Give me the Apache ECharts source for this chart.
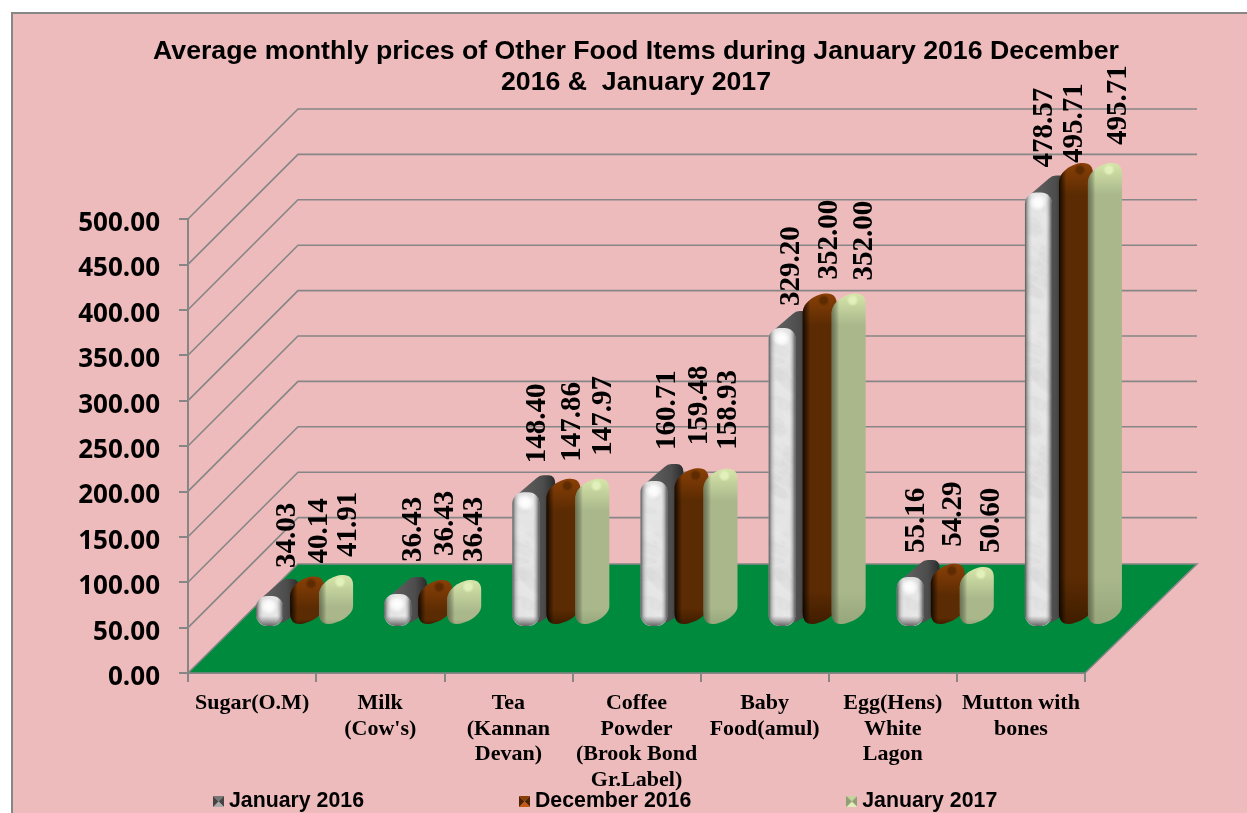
<!DOCTYPE html>
<html>
<head>
<meta charset="utf-8">
<title>Average monthly prices</title>
<script src="https://cdn.jsdelivr.net/npm/echarts@6/dist/echarts.min.js"></script>
<style>
html, body { margin: 0; padding: 0; background: #fff; overflow: hidden; }
#main { width: 1247px; height: 813px; }
</style>
</head>
<body>
<div id="main"></div>
<script>
var categories = ['Sugar(O.M)', "Milk\n(Cow's)", 'Tea\n(Kannan\nDevan)', 'Coffee\nPowder\n(Brook Bond\nGr.Label)', 'Baby\nFood(amul)', 'Egg(Hens)\nWhite\nLagon', 'Mutton with\nbones'];
var jan2016 = [34.03, 36.43, 148.40, 160.71, 329.20, 55.16, 478.57];
var dec2016 = [40.14, 36.43, 147.86, 159.48, 352.00, 54.29, 495.71];
var jan2017 = [41.91, 36.43, 147.97, 158.93, 352.00, 50.60, 495.71];
var gridValues = [50, 100, 150, 200, 250, 300, 350, 400, 450, 500];

// hand placed labels in the original, [dx from category centre, dy from value]
var labelDx = [
    [35, 33, 29, 31, 27, 24, 24],
    [67, 65, 64, 63, 65, 61, 54],
    [96, 94, 95, 92, 100, 99, 98]
];
var labelDy = [
    [-74, -78, -75, -77, -68, -70, -71],
    [-73, -84, -77, -83, -74, -77, -60],
    [-78, -78, -83, -79, -73, -74, -78]
];

var DEPTH = 110;
var WALL_COLOR = '#868686';
var LABEL_FONT = 'bold 29px "Liberation Serif"';

function makeMarble() {
    var c = document.createElement('canvas');
    c.width = 64; c.height = 200;
    var ctx = c.getContext('2d');
    ctx.fillStyle = '#e4e4e4';
    ctx.fillRect(0, 0, 64, 200);
    for (var i = 1; i < 130; i++) {
        var a = Math.sin(i * 12.9898) * 43758.5453; a = a - Math.floor(a);
        var b = Math.sin(i * 78.233) * 24634.6345; b = b - Math.floor(b);
        var g = i % 2 === 0 ? 250 : 190 + Math.floor(a * 30);
        ctx.fillStyle = 'rgba(' + g + ',' + g + ',' + g + ',0.1)';
        ctx.beginPath();
        ctx.ellipse(a * 64, b * 200, 7 + b * 10, 4 + a * 8, a * 3, 0, Math.PI * 2);
        ctx.fill();
    }
    return c;
}
var marble = makeMarble();

function makeLegendIcon(light, mid, dark) {
    var c = document.createElement('canvas');
    c.width = 11; c.height = 11;
    var ctx = c.getContext('2d');
    var faces = [[0, 0, 11, 0, mid], [11, 0, 11, 11, dark], [11, 11, 0, 11, light], [0, 11, 0, 0, dark]];
    faces.forEach(function(f) {
        ctx.fillStyle = f[4];
        ctx.beginPath();
        ctx.moveTo(f[0], f[1]);
        ctx.lineTo(f[2], f[3]);
        ctx.lineTo(5.5, 5.5);
        ctx.closePath();
        ctx.fill();
    });
    return 'image://' + c.toDataURL();
}

function valueLabel(api, s, i, v) {
    var base = api.coord([i, 0]);
    var top = api.coord([i, v]);
    return {
        type: 'text',
        x: base[0] + labelDx[s][i],
        y: top[1] + labelDy[s][i],
        rotation: Math.PI / 2,
        z2: 100,
        style: { text: v.toFixed(2), font: LABEL_FONT, fill: '#000', align: 'left', verticalAlign: 'middle' }
    };
}

function renderWhiteBar(params, api) {
    var i = api.value(0), v = api.value(1);
    var x = api.coord([i, 0])[0] + 4;
    var yB = api.coord([i, 0])[1] - 47;
    var yT = api.coord([i, v])[1] - 46;
    var h = yB - yT;
    var w = 27;
    var backPath = 'M' + (x + 3) + ' ' + (yT + 4) + 'L' + (x + 24) + ' ' + (yT - 14) +
        'Q' + (x + 27) + ' ' + (yT - 17) + ' ' + (x + 31) + ' ' + (yT - 17) +
        'L' + (x + 36) + ' ' + (yT - 17) + 'Q' + (x + 43) + ' ' + (yT - 17) + ' ' + (x + 43) + ' ' + (yT - 8) +
        'L' + (x + 43) + ' ' + (yB - 14) + 'L' + (x + 26) + ' ' + (yB - 3) + 'Z';
    return {
        type: 'group',
        children: [
            { type: 'path', shape: { pathData: backPath }, style: {
                fill: { type: 'linear', x: 0, y: 0, x2: 1, y2: 0, colorStops: [
                    { offset: 0, color: '#666' }, { offset: 0.7, color: '#4c4c4c' }, { offset: 1, color: '#2a2a2a' }] } } },
            { type: 'rect', shape: { x: x, y: yT, width: w, height: h, r: 11 }, style: { fill: { image: marble, repeat: 'repeat' } } },
            { type: 'rect', shape: { x: x, y: yT, width: w, height: h, r: 11 }, style: {
                fill: { type: 'linear', x: 0, y: 0, x2: 1, y2: 0, colorStops: [
                    { offset: 0, color: 'rgba(60,60,60,0.85)' }, { offset: 0.14, color: 'rgba(140,140,140,0.35)' },
                    { offset: 0.32, color: 'rgba(255,255,255,0)' }, { offset: 0.72, color: 'rgba(255,255,255,0)' },
                    { offset: 0.9, color: 'rgba(110,110,110,0.5)' }, { offset: 1, color: 'rgba(50,50,50,0.85)' }] } } },
            { type: 'rect', shape: { x: x + 1, y: yB - 10, width: w - 2, height: 10, r: [0, 0, 10, 10] }, style: {
                fill: { type: 'linear', x: 0, y: 0, x2: 0, y2: 1, colorStops: [
                    { offset: 0, color: 'rgba(90,90,90,0)' }, { offset: 1, color: 'rgba(70,70,70,0.8)' }] } } },
            { type: 'circle', shape: { cx: x + 13, cy: yT + 10, r: 9 }, style: {
                fill: { type: 'radial', x: 0.5, y: 0.5, r: 0.5, colorStops: [
                    { offset: 0, color: 'rgba(255,255,255,1)' }, { offset: 0.5, color: 'rgba(255,255,255,0.8)' }, { offset: 1, color: 'rgba(255,255,255,0)' }] } } },
            valueLabel(api, 0, i, v)
        ]
    };
}

function skewBar(x, yT, yB, w) {
    return 'M' + x + ' ' + (yT + 20) +
        'C' + x + ' ' + (yT + 8) + ' ' + (x + 14) + ' ' + yT + ' ' + (x + w - 10) + ' ' + yT +
        'C' + (x + w - 3) + ' ' + yT + ' ' + (x + w) + ' ' + (yT + 4) + ' ' + (x + w) + ' ' + (yT + 10) +
        'L' + (x + w) + ' ' + (yB - 18) +
        'C' + (x + w) + ' ' + (yB - 8) + ' ' + (x + 18) + ' ' + yB + ' ' + (x + 9) + ' ' + yB +
        'C' + (x + 3) + ' ' + yB + ' ' + x + ' ' + (yB - 4) + ' ' + x + ' ' + (yB - 12) + 'Z';
}

// brown and green bars only differ by colours and offset
function renderSkewBar(s, dx, cols) {
    return function(params, api) {
        var i = api.value(0), v = api.value(1);
        var x = api.coord([i, 0])[0] + dx;
        var yB = api.coord([i, 0])[1] - 49;
        var yT = api.coord([i, v])[1] - 60;
        var w = 34;
        var capStop = Math.min(0.8, 32 / (yB - yT));
        var bar = skewBar(x, yT, yB, w);
        return {
            type: 'group',
            children: [
                { type: 'path', shape: { pathData: bar }, style: {
                    fill: { type: 'linear', x: 0, y: 0, x2: 0, y2: 1, colorStops: [
                        { offset: 0, color: cols.cap }, { offset: capStop, color: cols.body },
                        { offset: 0.9, color: cols.body }, { offset: 1, color: cols.foot }] } } },
                { type: 'path', shape: { pathData: bar }, style: {
                    fill: { type: 'linear', x: 0, y: 0, x2: 1, y2: 0, colorStops: [
                        { offset: 0, color: cols.edge }, { offset: 0.22, color: 'rgba(0,0,0,0)' }, { offset: 1, color: 'rgba(0,0,0,0)' }] } } },
                { type: 'ellipse', shape: { cx: x + 21, cy: yT + 7, rx: 11, ry: 6 }, rotation: 0.3, originX: x + 21, originY: yT + 7, style: {
                    fill: { type: 'radial', x: 0.5, y: 0.5, r: 0.5, colorStops: [
                        { offset: 0, color: cols.spot }, { offset: 0.5, color: cols.spot }, { offset: 1, color: cols.spotOut }] } } },
                valueLabel(api, s, i, v)
            ]
        };
    };
}

function seriesData(values) {
    return values.map(function(v, i) { return [i, v]; });
}

var myChart = echarts.init(document.getElementById('main'));
var option = {
    animation: false,
    backgroundColor: '#fff',
    textStyle: { fontFamily: 'Liberation Sans' },
    title: {
        text: 'Average monthly prices of Other Food Items during January 2016 December\n2016 &  January 2017',
        left: 631,
        top: 31,
        textAlign: 'center',
        textStyle: { fontFamily: 'Liberation Sans', fontWeight: 'bold', fontSize: 26.7, lineHeight: 31, color: '#000' }
    },
    graphic: [{
        type: 'rect',
        z: -10,
        shape: { x: 12, y: 13, width: 1300, height: 900 },
        style: { fill: '#eebbbc', stroke: '#868686', lineWidth: 2 }
    }],
    legend: {
        left: 208,
        top: 786,
        itemWidth: 11,
        itemHeight: 11,
        itemGap: 155,
        textStyle: { fontFamily: 'Liberation Sans', fontWeight: 'bold', fontSize: 21.3, color: '#000' },
        data: [
            { name: 'January 2016', icon: makeLegendIcon('#aaa', '#777', '#444') },
            { name: 'December 2016', icon: makeLegendIcon('#c65a10', '#8a3e05', '#4f2200') },
            { name: 'January 2017', icon: makeLegendIcon('#e0f0b8', '#c3d49c', '#8f9f73') }
        ]
    },
    grid: { left: 188, top: 219, width: 897, height: 454 },
    xAxis: {
        type: 'category',
        data: categories,
        axisLine: { lineStyle: { color: WALL_COLOR, width: 2 } },
        axisTick: { show: true, length: 9, lineStyle: { color: WALL_COLOR, width: 2 } },
        axisLabel: {
            interval: 0,
            margin: 18,
            fontFamily: 'Liberation Serif',
            fontWeight: 'bold',
            fontSize: 22,
            lineHeight: 25.5,
            color: '#000'
        }
    },
    yAxis: {
        type: 'value',
        min: 0,
        max: 500,
        interval: 50,
        splitLine: { show: false },
        axisLine: { show: true, lineStyle: { color: WALL_COLOR, width: 2 } },
        axisTick: { show: true, length: 9, lineStyle: { color: WALL_COLOR, width: 2 } },
        axisLabel: {
            margin: 28,
            verticalAlign: 'top',
            lineHeight: 9,
            fontFamily: 'Open Sans',
            fontWeight: 'bold',
            fontSize: 26,
            color: '#000',
            formatter: function(v) { return v.toFixed(2); }
        }
    },
    series: [
        {
            name: 'walls',
            type: 'custom',
            silent: true,
            clip: false,
            data: gridValues.map(function(v) { return [0, v]; }),
            renderItem: function(params, api) {
                var sys = params.coordSys;
                var y = api.coord([0, api.value(1)])[1];
                return {
                    type: 'polyline',
                    shape: { points: [[sys.x, y], [sys.x + DEPTH, y - DEPTH], [sys.x + sys.width + DEPTH + 2, y - DEPTH]] },
                    style: { fill: 'none', stroke: WALL_COLOR, lineWidth: 1.6 }
                };
            }
        },
        {
            name: 'floor',
            type: 'custom',
            silent: true,
            clip: false,
            data: [[0, 0]],
            renderItem: function(params, api) {
                var sys = params.coordSys;
                var y = api.coord([0, 0])[1];
                return {
                    type: 'polygon',
                    shape: { points: [[sys.x, y], [sys.x + sys.width, y], [sys.x + sys.width + DEPTH + 2, y - DEPTH + 1], [sys.x + DEPTH, y - DEPTH + 1]] },
                    style: { fill: '#008a3e', stroke: WALL_COLOR, lineWidth: 1.5 }
                };
            }
        },
        {
            name: 'January 2016',
            type: 'custom',
            clip: false,
            data: seriesData(jan2016),
            encode: { x: 0, y: 1 },
            itemStyle: { color: '#777' },
            renderItem: renderWhiteBar
        },
        {
            name: 'December 2016',
            type: 'custom',
            clip: false,
            data: seriesData(dec2016),
            encode: { x: 0, y: 1 },
            itemStyle: { color: '#8a3e05' },
            renderItem: renderSkewBar(1, 38, { cap: '#8a4006', body: '#5b2b03', foot: '#3f1d00', edge: 'rgba(0,0,0,0.8)', spot: 'rgba(80,36,0,0.7)', spotOut: 'rgba(80,36,0,0)' })
        },
        {
            name: 'January 2017',
            type: 'custom',
            clip: false,
            data: seriesData(jan2017),
            encode: { x: 0, y: 1 },
            itemStyle: { color: '#c3d49c' },
            renderItem: renderSkewBar(2, 67, { cap: '#d6e6a9', body: '#a9b78b', foot: '#98a67c', edge: 'rgba(60,60,40,0.55)', spot: 'rgba(228,243,190,0.9)', spotOut: 'rgba(228,243,190,0)' })
        }
    ]
};
myChart.setOption(option);
</script>
</body>
</html>
